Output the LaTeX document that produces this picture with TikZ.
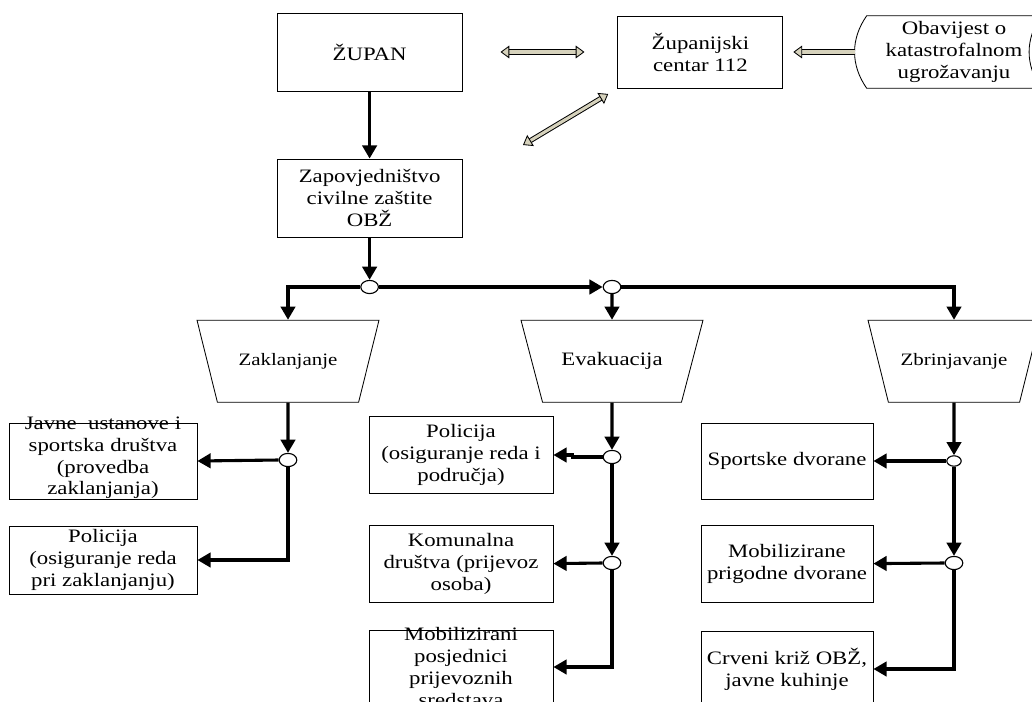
\documentclass[tikz,border=0pt]{standalone}
\usepackage{fontspec}
\setmainfont{Liberation Serif}[FakeStretch=1.2]
\usetikzlibrary{arrows.meta,shapes.geometric}
\definecolor{dblfill}{RGB}{214,210,188}
\tikzset{hol/.tip={Triangle[fill=dblfill,length=0.22cm,width=0.32cm,line width=0.6pt]}}

\begin{document}
\begin{tikzpicture}[font=\fontsize{13.5}{15.6}\selectfont,
  bx/.style={draw,line width=0.6pt,align=center,minimum width=4.6cm,minimum height=1.925cm,inner sep=1pt},
  tr/.style={draw,line width=0.6pt,trapezium,shape border rotate=180,trapezium angle=51,trapezium stretches body,minimum width=4.55cm,minimum height=2.05cm},
  jn/.style={draw,line width=0.8pt,fill=white,ellipse,inner sep=0pt,minimum width=0.44cm,minimum height=0.33cm},
  ar/.style={line width=2.2pt,-{Triangle[length=0.33cm,width=0.36cm]}},
  dar/.style={line width=0.7pt,double=dblfill,double distance=2.2pt}]
\useasboundingbox (0,0) rectangle (25.8,-17.55);
\clip (0,0) rectangle (25.8,-17.55);

% top row
\node[bx,minimum width=4.625cm,minimum height=1.95cm] (zupan) at (9.24,-1.3) {ŽUPAN};
\node[bx,minimum width=4.125cm,minimum height=1.8cm] (centar) at (17.51,-1.3) {Županijski\\centar 112};
\node[align=center,minimum width=4.35cm,minimum height=1.8cm,inner sep=0pt] (obav) at (23.85,-1.3) {Obavijest o\\katastrofalnom\\ugrožavanju};
\draw[line width=0.6pt] (obav.north west) to[bend right=35] (obav.south west) -- (obav.south east) to[bend left=35] (obav.north east) -- cycle;
\coordinate (dfree) at (13.075,-3.625);

\draw[dar,hol-hol,shorten <=0.95cm,shorten >=0.825cm] (zupan.east) -- (centar.west);
\draw[dar,-hol,shorten >=0.25cm] ([xshift=-0.3cm]obav.west) -- (centar.east);
\draw[dar,hol-hol,shorten >=0.27cm] (dfree) -- (centar.south west);

\node[bx,minimum width=4.625cm,minimum height=1.95cm] (zapov) at (9.24,-4.95) {Zapovjedništvo\\civilne zaštite\\OBŽ};

% razdjelnici
\node[jn] (j0) at (9.24,-7.175) {};
\node[jn] (j1) at (15.3,-7.175) {};

\node[tr,font=\fontsize{12.4}{14}\selectfont] (zak) at (7.2,-9.03) {Zaklanjanje};
\node[tr] (eva) at (15.3,-9.03) {Evakuacija};
\node[tr,minimum width=4.3cm,font=\fontsize{12.4}{14}\selectfont] (zbr) at (23.85,-9.03) {Zbrinjavanje};

\draw[ar] (zupan.south) -- (zapov.north);
\draw[ar] (zapov.south) -- (j0.north);
\draw[ar] (j0.west) -| (zak.north);
\draw[ar] (j0.east) -- (j1.west);
\draw[ar] (j1.east) -| (zbr.north);
\draw[ar] (j1.south) -- (eva.north);

% zaklanjanje
\node[jn] (jz) at (7.2,-11.5) {};
\node[bx,minimum width=4.7cm,minimum height=1.9cm,label={[align=center,yshift=0.08cm]center:Javne\ \ ustanove i\\sportska društva\\(provedba\\zaklanjanja)}] (la) at (2.575,-11.525) {};
\node[bx,minimum width=4.7cm,minimum height=1.7cm] (lb) at (2.575,-14.0) {Policija\\(osiguranje reda\\pri zaklanjanju)};
\draw[ar] (zak.south) -- (jz.north);
\draw[ar] (jz.west) -- (la.east);
\draw[ar] (jz.south) |- (lb.east);

% evakuacija
\node[jn] (jm1) at (15.3,-11.425) {};
\node[jn] (jm2) at (15.3,-14.075) {};
\node[bx] (mb1) at (11.525,-11.375) {Policija\\(osiguranje reda i\\područja)};
\node[bx] (mb2) at (11.525,-14.09) {Komunalna\\društva (prijevoz\\osoba)};
\node[bx,minimum height=1.85cm,label={[align=center]center:Mobilizirani\\posjednici\\prijevoznih\\sredstava}] (mb3) at (11.525,-16.675) {};
\draw[ar] (eva.south) -- (jm1.north);
\draw[ar] (jm1.west) -- ++(-0.75,0) |- (mb1.east);
\draw[ar] (jm1.south) -- (jm2.north);
\draw[ar] (jm2.west) -- (mb2.east);
\draw[ar] (jm2.south) |- (mb3.east);

% zbrinjavanje
\node[jn,minimum width=0.36cm,minimum height=0.26cm] (jr1) at (23.85,-11.525) {};
\node[jn] (jr2) at (23.85,-14.075) {};
\node[bx,minimum width=4.3cm,minimum height=1.9cm] (rb1) at (19.675,-11.525) {Sportske dvorane};
\node[bx,minimum width=4.3cm] (rb2) at (19.675,-14.09) {Mobilizirane\\prigodne dvorane};
\node[bx,minimum width=4.3cm,minimum height=1.9cm] (rb3) at (19.675,-16.725) {Crveni križ OBŽ,\\javne kuhinje};
\draw[ar] (zbr.south) -- (jr1.north);
\draw[ar] (jr1.west) -- (rb1.east);
\draw[ar] (jr1.south) -- (jr2.north);
\draw[ar] (jr2.west) -- (rb2.east);
\draw[ar] (jr2.south) |- (rb3.east);
\end{tikzpicture}
\end{document}
